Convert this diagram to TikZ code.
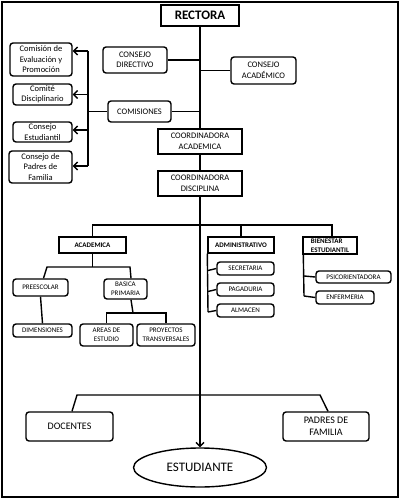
\documentclass[tikz,border=0pt]{standalone}
\usepackage{fontspec}
\setmainfont{Carlito}
\usetikzlibrary{arrows.meta,shapes.geometric,backgrounds}
\tikzset{
  base/.style={draw, line width=1.4pt, fill=white, inner sep=0pt, align=center},
  rbox/.style={base, rounded corners=3pt},
  sbox/.style={base},
  fm/.style={font=\fontsize{8.5}{10.5}\selectfont},
  fs/.style={font=\fontsize{7}{9}\selectfont},
  fsb/.style={font=\fontsize{7}{8.5}\selectfont\bfseries},
  fl/.style={font=\fontsize{10}{12.5}\selectfont},
  conn/.style={line width=1.4pt},
  arr/.style={conn, -{Straight Barb[length=4pt,width=8pt]}},
}
\begin{document}
\begin{tikzpicture}[x=1pt,y=-1pt]
\useasboundingbox (0,0) rectangle (400,500);
\draw[line width=2pt] (2,2) rectangle (398,497);
% top
\node[sbox, line width=1.8pt, minimum width=78pt, minimum height=21pt, font=\fontsize{13}{15}\selectfont\bfseries] (rect) at (200,15.5) {RECTORA};
\node[rbox, fm, minimum width=64pt, minimum height=26pt] (cdir) at (135,60) {CONSEJO\\DIRECTIVO};
\node[rbox, fm, minimum width=65pt, minimum height=27pt] (cacad) at (263.5,70.5) {CONSEJO\\ACADÉMICO};
\node[rbox, fm, minimum width=63pt, minimum height=21pt] (comis) at (139.5,111.5) {COMISIONES};
% left boxes
\node[rbox, fm, minimum width=62pt, minimum height=33pt] (l1) at (41,59.5) {Comisión de\\Evaluación y\\Promoción};
\node[rbox, fm, minimum width=59pt, minimum height=21pt] (l2) at (42.5,94.5) {Comité\\Disciplinario};
\node[rbox, fm, minimum width=59pt, minimum height=20pt] (l3) at (42.5,132) {Consejo\\Estudiantil};
\node[rbox, fm, minimum width=63pt, minimum height=32pt] (l4) at (40.5,167) {Consejo de\\Padres de\\Familia};
% coordinators
\node[sbox, fm, minimum width=84pt, minimum height=25pt] (coac) at (200,141.5) {COORDINADORA\\ACADEMICA};
\node[sbox, fm, minimum width=84pt, minimum height=25pt] (codi) at (200,183.5) {COORDINADORA\\DISCIPLINA};
% areas
\node[sbox, fsb, minimum width=67pt, minimum height=16pt] (acad) at (92.5,245) {ACADEMICA};
\node[sbox, fsb, minimum width=66pt, minimum height=16pt] (admin) at (241,245) {ADMINISTRATIVO};
\node[sbox, fsb, align=left, minimum width=54pt, minimum height=17pt] (bien) at (330,245.5) {BIENESTAR\\ESTUDIANTIL};
\node[rbox, fs, minimum width=57pt, minimum height=13pt] (secr) at (245.5,268.5) {SECRETARIA};
\node[rbox, fs, minimum width=57pt, minimum height=13pt] (paga) at (245.5,289.5) {PAGADURIA};
\node[rbox, fs, minimum width=57pt, minimum height=13pt] (alma) at (245.5,310.5) {ALMACEN};
\node[rbox, fs, minimum width=75pt, minimum height=12pt] (psic) at (353.5,277) {PSICORIENTADORA};
\node[rbox, fs, minimum width=58pt, minimum height=13pt] (enfe) at (345,297.5) {ENFERMERIA};
\node[rbox, fs, minimum width=55pt, minimum height=17pt] (pree) at (40.5,287.5) {PREESCOLAR};
\node[rbox, fs, minimum width=43pt, minimum height=20pt] (basi) at (125.5,289) {BASICA\\PRIMARIA};
\node[rbox, fs, minimum width=59pt, minimum height=13pt] (dime) at (42.5,330.5) {DIMENSIONES};
\node[rbox, fs, minimum width=53pt, minimum height=22pt] (area) at (106.5,335) {AREAS DE\\ESTUDIO};
\node[rbox, fs, minimum width=58pt, minimum height=22pt] (proy) at (166,335) {PROYECTOS\\TRANSVERSALES};
% bottom
\node[rbox, fl, minimum width=87pt, minimum height=29pt] (doce) at (69.5,426.5) {DOCENTES};
\node[rbox, fl, minimum width=86pt, minimum height=29pt] (padr) at (326,426.5) {PADRES DE\\FAMILIA};
\node[ellipse, draw, line width=1.4pt, fill=white, inner sep=0pt, minimum width=133pt, minimum height=39pt, font=\fontsize{13}{15}\selectfont] (estu) at (200,467.5) {ESTUDIANTE};
% coordinates
\coordinate (b1) at (88,51);
\coordinate (b4) at (88,166);
\coordinate (ah1) at (47,267);
\coordinate (ah2) at (130,267);
\coordinate (hl) at (93,225);
\coordinate (ab) at (208,312);
\coordinate (bb) at (304,296);
\coordinate (bh) at (133,313);
\coordinate (dl) at (77,395);
\coordinate (dr) at (320,395);
\begin{scope}[on background layer]
\draw[arr] (rect.south) -- (estu.north);
\draw[conn] (cdir.east) -- (cdir.east -| rect.south);
\draw[conn] (cacad.west) -- (cacad.west -| rect.south);
\draw[conn] (comis.east) -- (comis.east -| rect.south);
\draw[conn] (comis.west) -- (comis.west -| b1);
\draw[conn] (b1) -- (b4);
\draw[arr] (b1) -- (l1.east |- b1);
\draw[arr] (l2.east -| b1) -- (l2.east);
\draw[arr] ([yshift=2pt]l3.east -| b1) -- ([yshift=2pt]l3.east);
\draw[arr] (b4) -- (l4.east |- b4);
% level lines
\draw[conn] (acad.north) -- (acad.north |- hl) -- ([xshift=2pt]bien.north |- hl) -- ([xshift=2pt]bien.north);
\draw[conn] (admin.north) -- (admin.north |- hl);
% administrativo
\draw[conn] (admin.south west) -- (ab);
\draw[conn] ([yshift=-2pt]secr.west -| ab) -- (secr.west);
\draw[conn] ([yshift=-2pt]paga.west -| ab) -- (paga.west);
\draw[conn] (ab) -- (alma.west);
% bienestar
\draw[conn] ([xshift=1pt]bien.south west) -- (bb);
\draw[conn] ([yshift=1pt]psic.west -| bb) -- (psic.west);
\draw[conn] (bb) -- (enfe.west);
% academica
\draw[conn] (acad.south) -- (acad.south |- ah1);
\draw[conn] ([xshift=3pt]pree.north) -- (ah1) -- (ah2) -- ([xshift=5.5pt]basi.north);
\draw[conn] (pree.south) -- (dime.north);
\draw[conn] ([xshift=5.5pt]basi.south) -- (bh);
\draw[conn] (area.north) -- (area.north |- bh) -- (proy.north |- bh) -- (proy.north);
% bottom
\draw[conn] ([xshift=2.5pt]doce.north) -- (dl) -- (dr) -- ([xshift=2pt]padr.north);
\end{scope}
\end{tikzpicture}
\end{document}
